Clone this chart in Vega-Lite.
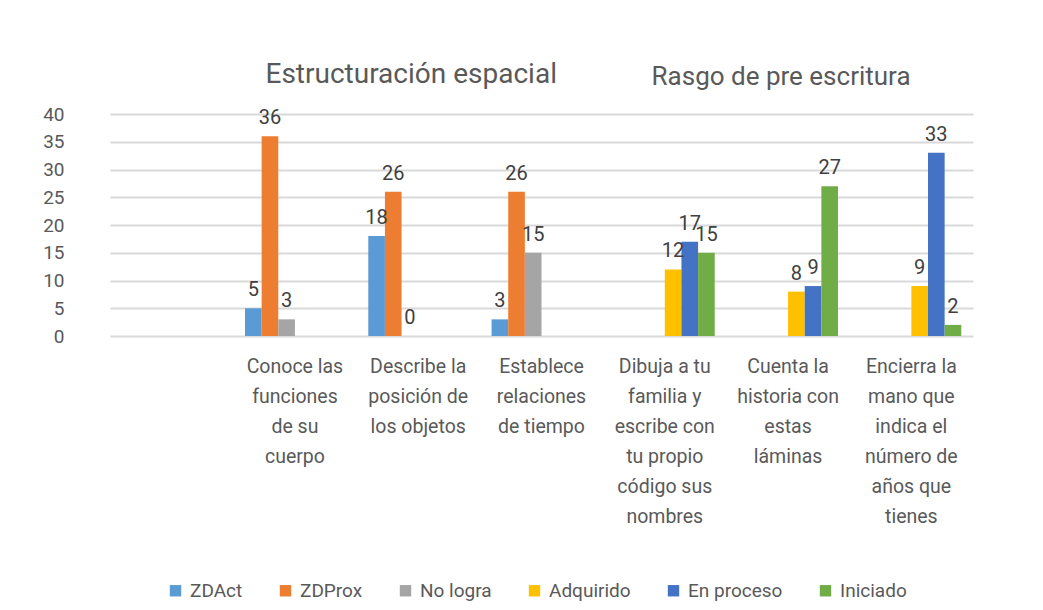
{
  "$schema": "https://vega.github.io/schema/vega-lite/v6.json",
  "width": 863,
  "height": 222,
  "autosize": "none",
  "padding": {"left": 110, "top": 114, "right": 70, "bottom": 274},
  "background": "white",
  "config": {
    "font": "Roboto, sans-serif",
    "view": {"stroke": null},
    "axisY": {
      "title": null,
      "values": [0, 5, 10, 15, 20, 25, 30, 35, 40],
      "labelOverlap": false,
      "labelFontSize": 19,
      "labelColor": "#595959",
      "labelPadding": 46,
      "ticks": false,
      "domain": false,
      "gridColor": "#d9d9d9",
      "gridWidth": 2
    }
  },
  "datasets": {
    "bars": [
      {"cat": "Conoce las|funciones|de su|cuerpo", "serie": "ZDAct", "valor": 5},
      {"cat": "Conoce las|funciones|de su|cuerpo", "serie": "ZDProx", "valor": 36},
      {"cat": "Conoce las|funciones|de su|cuerpo", "serie": "No logra", "valor": 3},
      {"cat": "Describe la|posición de|los objetos", "serie": "ZDAct", "valor": 18},
      {"cat": "Describe la|posición de|los objetos", "serie": "ZDProx", "valor": 26},
      {"cat": "Describe la|posición de|los objetos", "serie": "No logra", "valor": 0},
      {"cat": "Establece|relaciones|de tiempo", "serie": "ZDAct", "valor": 3},
      {"cat": "Establece|relaciones|de tiempo", "serie": "ZDProx", "valor": 26},
      {"cat": "Establece|relaciones|de tiempo", "serie": "No logra", "valor": 15},
      {"cat": "Dibuja a tu|familia y|escribe con|tu propio|código sus|nombres", "serie": "Adquirido", "valor": 12},
      {"cat": "Dibuja a tu|familia y|escribe con|tu propio|código sus|nombres", "serie": "En proceso", "valor": 17},
      {"cat": "Dibuja a tu|familia y|escribe con|tu propio|código sus|nombres", "serie": "Iniciado", "valor": 15},
      {"cat": "Cuenta la|historia con|estas|láminas", "serie": "Adquirido", "valor": 8},
      {"cat": "Cuenta la|historia con|estas|láminas", "serie": "En proceso", "valor": 9},
      {"cat": "Cuenta la|historia con|estas|láminas", "serie": "Iniciado", "valor": 27},
      {"cat": "Encierra la|mano que|indica el|número de|años que|tienes", "serie": "Adquirido", "valor": 9},
      {"cat": "Encierra la|mano que|indica el|número de|años que|tienes", "serie": "En proceso", "valor": 33},
      {"cat": "Encierra la|mano que|indica el|número de|años que|tienes", "serie": "Iniciado", "valor": 2}
    ],
    "titulos": [
      {"cat": "Describe la|posición de|los objetos", "nivel": 47, "texto": "Estructuración espacial", "grupo": "a"},
      {"cat": "Cuenta la|historia con|estas|láminas", "nivel": 46.7, "texto": "Rasgo de pre escritura", "grupo": "b"}
    ]
  },
  "encoding": {
    "x": {
      "field": "cat",
      "type": "nominal",
      "scale": {
        "domain": [" ", "Conoce las|funciones|de su|cuerpo", "Describe la|posición de|los objetos", "Establece|relaciones|de tiempo", "Dibuja a tu|familia y|escribe con|tu propio|código sus|nombres", "Cuenta la|historia con|estas|láminas", "Encierra la|mano que|indica el|número de|años que|tienes"],
        "paddingInner": 0.19,
        "paddingOuter": 0.095
      },
      "axis": {
        "title": null,
        "labelAngle": 0,
        "labelExpr": "split(datum.label, '|')",
        "labelFontSize": 19.5,
        "labelLineHeight": 30,
        "labelColor": "#595959",
        "labelPadding": 21,
        "labelBaseline": "top",
        "labelLimit": 0,
        "labelOverlap": false,
        "ticks": false,
        "domain": false
      }
    }
  },
  "layer": [
    {
      "data": {"name": "bars"},
      "mark": {"type": "bar"},
      "encoding": {
        "xOffset": {"field": "serie", "type": "nominal", "scale": {"domain": ["ZDAct", "ZDProx", "No logra", "Adquirido", "En proceso", "Iniciado"], "paddingInner": 0, "paddingOuter": 0}},
        "y": {
          "field": "valor",
          "type": "quantitative",
          "scale": {"domain": [0, 40], "nice": false}
        },
        "color": {
          "field": "serie",
          "type": "nominal",
          "scale": {
            "domain": ["ZDAct", "ZDProx", "No logra", "Adquirido", "En proceso", "Iniciado"],
            "range": ["#5B9BD5", "#ED7D31", "#A5A5A5", "#FFC000", "#4472C4", "#70AD47"]
          },
          "legend": {
            "title": null,
            "orient": "none",
            "direction": "horizontal",
            "legendX": 56,
            "legendY": 467,
            "symbolType": "square",
            "symbolSize": 130,
            "symbolStrokeWidth": 0,
            "labelFontSize": 19,
            "labelColor": "#595959",
            "labelOffset": 5,
            "columnPadding": 33
          }
        }
      }
    },
    {
      "data": {"name": "bars"},
      "mark": {"type": "text", "baseline": "bottom", "dy": -8, "fontSize": 20, "color": "#404040"},
      "encoding": {
        "xOffset": {"field": "serie", "type": "nominal", "scale": {"domain": ["ZDAct", "ZDProx", "No logra", "Adquirido", "En proceso", "Iniciado"]}},
        "y": {"field": "valor", "type": "quantitative"},
        "text": {"field": "valor", "type": "quantitative"}
      }
    },
    {
      "data": {"name": "titulos"},
      "mark": {"type": "text", "baseline": "middle", "color": "#595959", "dx": -7},
      "encoding": {
        "y": {"field": "nivel", "type": "quantitative"},
        "text": {"field": "texto", "type": "nominal"},
        "font": {"field": "grupo", "type": "nominal", "scale": {"domain": ["a", "b"], "range": ["Roboto, sans-serif", "Liberation Sans, Arial, sans-serif"]}, "legend": null},
        "size": {"field": "grupo", "type": "nominal", "scale": {"domain": ["a", "b"], "range": [28, 26]}, "legend": null}
      }
    }
  ]
}
